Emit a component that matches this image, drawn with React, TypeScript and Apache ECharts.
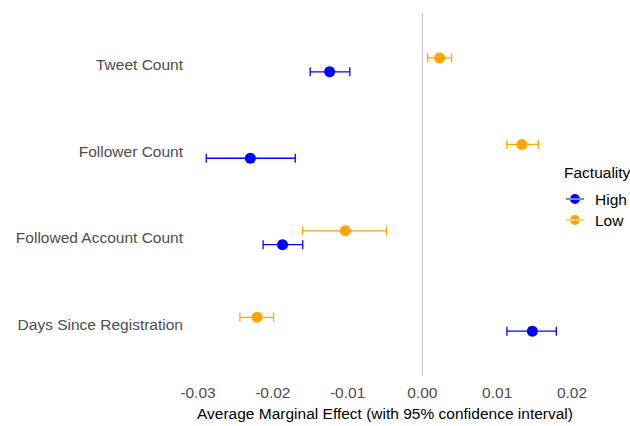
import React, { useEffect, useRef } from "react";
import * as echarts from "echarts";

const categories = [
  "Tweet Count",
  "Follower Count",
  "Followed Account Count",
  "Days Since Registration",
];
const highEst = [-0.0124, -0.023, -0.0187, 0.0147];
const highLo = [-0.015, -0.0289, -0.0213, 0.0113];
const highHi = [-0.0097, -0.017, -0.016, 0.0179];
const lowEst = [0.0023, 0.0133, -0.0103, -0.0221];
const lowLo = [0.0007, 0.0113, -0.016, -0.0244];
const lowHi = [0.0039, 0.0155, -0.0048, -0.0199];
const xTicks = { min: -0.03, max: 0.02, interval: 0.01 };

const BLUE = "#0000FF";
const ORANGE = "#FFA500";
const FONT = "Liberation Sans, Arial, sans-serif";
const DODGE = 0.08;

const legendIcon =
  "path://M0,4.4 L18,4.4 L18,5.6 L0,5.6 Z M4,5 A5,5 0 1,0 14,5 A5,5 0 1,0 4,5 Z";

function ciSeries(name: string, lo: number[], hi: number[], offset: number, color: string) {
  return {
    type: "custom",
    name,
    silent: true,
    z: 2,
    data: lo.map((l, i) => [l, hi[i], i + 1 + offset]),
    encode: { x: [0, 1], y: 2 },
    renderItem: (params: any, api: any) => {
      const y = api.value(2);
      const a = api.coord([api.value(0), y]);
      const b = api.coord([api.value(1), y]);
      const h = 4.5;
      const style = { stroke: color, lineWidth: 1.3 };
      return {
        type: "group",
        children: [
          { type: "line", shape: { x1: a[0], y1: a[1], x2: b[0], y2: b[1] }, style },
          { type: "line", shape: { x1: a[0], y1: a[1] - h, x2: a[0], y2: a[1] + h }, style },
          { type: "line", shape: { x1: b[0], y1: b[1] - h, x2: b[0], y2: b[1] + h }, style },
        ],
      };
    },
  };
}

export default function App() {
  const ref = useRef<HTMLDivElement>(null);
  useEffect(() => {
    if (!ref.current) return;
    const chart = echarts.init(ref.current, null, { renderer: "svg" });
    chart.setOption({
      animation: false,
      backgroundColor: "#ffffff",
      textStyle: { fontFamily: FONT },
      title: {
        text: "Factuality",
        left: 564,
        top: 164,
        padding: 0,
        textStyle: { fontFamily: FONT, fontSize: 15.5, fontWeight: "normal", color: "#000" },
      },
      legend: {
        orient: "vertical",
        left: 566,
        top: 191,
        itemWidth: 18,
        itemHeight: 10,
        itemGap: 5,
        padding: 0,
        textStyle: { fontFamily: FONT, fontSize: 15.5, color: "#000", padding: [0, 0, 0, 6] },
        data: [
          { name: "High", icon: legendIcon },
          { name: "Low", icon: legendIcon },
        ],
      },
      grid: { left: 198, right: 58, top: 13, bottom: 43 },
      xAxis: {
        type: "value",
        min: xTicks.min,
        max: xTicks.max,
        interval: xTicks.interval,
        name: "Average Marginal Effect (with 95% confidence interval)",
        nameLocation: "middle",
        nameGap: 27,
        nameTextStyle: { fontFamily: FONT, fontSize: 15.5, color: "#000" },
        axisLine: { show: false },
        axisTick: { show: false },
        splitLine: { show: false },
        axisLabel: {
          margin: 8,
          fontFamily: FONT,
          fontSize: 15.5,
          color: "#4d4d4d",
          formatter: (v: number) => (Math.abs(v) < 1e-9 ? "0.00" : v.toFixed(2)),
        },
      },
      yAxis: {
        type: "value",
        min: 0.4,
        max: 4.6,
        inverse: true,
        axisLine: { show: false },
        axisTick: { show: false },
        splitLine: { show: false },
        axisLabel: {
          customValues: categories.map((_, i) => i + 1),
          margin: 15,
          fontFamily: FONT,
          fontSize: 15.5,
          color: "#4d4d4d",
          formatter: (v: number) => categories[Math.round(v) - 1] ?? "",
        },
      },
      series: [
        {
          type: "scatter",
          name: "__zero",
          data: [],
          silent: true,
          z: 1,
          markLine: {
            silent: true,
            symbol: "none",
            label: { show: false },
            lineStyle: { color: "#c8c8c8", width: 1.2, type: "solid" },
            data: [{ xAxis: 0 }],
          },
        },
        ciSeries("High-CI", highLo, highHi, DODGE, BLUE),
        ciSeries("Low-CI", lowLo, lowHi, -DODGE, ORANGE),
        {
          type: "scatter",
          name: "High",
          symbolSize: 11,
          z: 3,
          itemStyle: { color: BLUE, opacity: 1 },
          data: highEst.map((v, i) => [v, i + 1 + DODGE]),
        },
        {
          type: "scatter",
          name: "Low",
          symbolSize: 11,
          z: 3,
          itemStyle: { color: ORANGE, opacity: 1 },
          data: lowEst.map((v, i) => [v, i + 1 - DODGE]),
        },
      ],
    });
    return () => chart.dispose();
  }, []);
  return (
    <div
      ref={ref}
      style={{ position: "fixed", left: 0, top: 0, width: 630, height: 426 }}
    />
  );
}
